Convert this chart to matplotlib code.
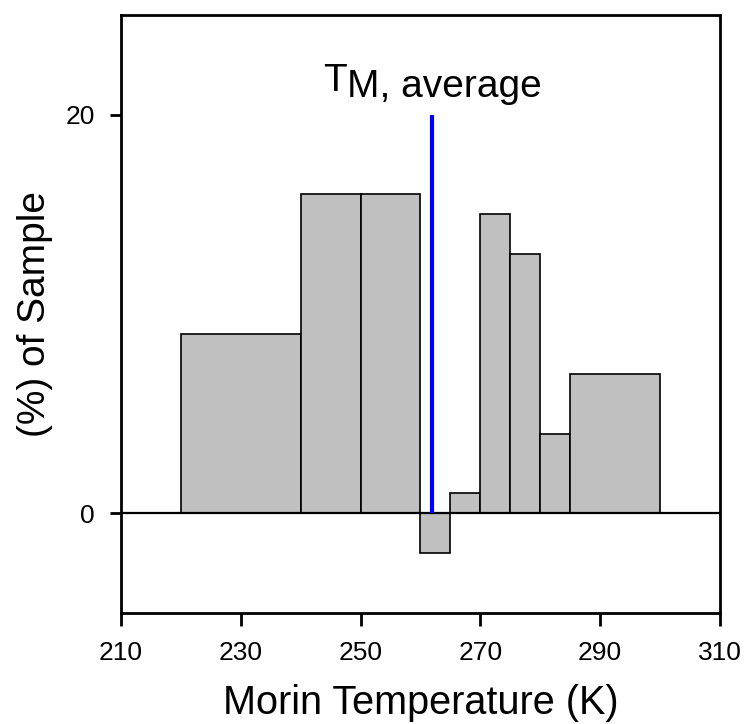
import matplotlib
matplotlib.use("Agg")
import matplotlib.pyplot as plt

# bin edges (K) and percentage of sample per bin
bin_left = [220, 240, 250, 260, 265, 270, 275, 280, 285]
bin_width = [20, 10, 10, 5, 5, 5, 5, 5, 15]
pct_sample = [9, 16, 16, -2, 1, 15, 13, 4, 7]

tm_average = 262
tm_top = 20

x_ticks = [210, 230, 250, 270, 290, 310]
y_ticks = [0, 20]

plt.rcParams["font.family"] = ["Liberation Sans", "DejaVu Sans"]

fig = plt.figure(figsize=(7.44, 7.24), dpi=100)
ax = fig.add_axes([0.1626, 0.1533, 0.805, 0.826])

ax.bar(bin_left, pct_sample, width=bin_width, align="edge",
       color="#C0C0C0", edgecolor="black", linewidth=1.2, zorder=2)
ax.axhline(0, color="black", linewidth=1.6, zorder=3)
ax.plot([tm_average, tm_average], [0, tm_top], color="#0000FF",
        linewidth=3, solid_capstyle="butt", zorder=4)

t = ax.text(243.8, 21.2, "T", fontsize=28, ha="left", va="baseline")
ax.annotate("M, average", xy=(1, 0), xycoords=t, xytext=(0, -4.5),
            textcoords="offset points", fontsize=28, ha="left", va="bottom")

ax.set_xlim(210, 310)
ax.set_ylim(-5, 25)
ax.set_xticks(x_ticks)
ax.set_yticks(y_ticks)
ax.tick_params(axis="x", direction="out", length=9, width=2, labelsize=19, pad=11)
ax.tick_params(axis="y", direction="out", length=8, width=2, labelsize=19, pad=11)
for side in ["left", "bottom", "top", "right"]:
    ax.spines[side].set_linewidth(2)

ax.set_xlabel("Morin Temperature (K)", fontsize=28.5, labelpad=14)
ax.set_ylabel("(%) of Sample", fontsize=28)
ax.yaxis.set_label_coords(-0.113, 0.5)

fig.savefig("out.png", dpi=100)
